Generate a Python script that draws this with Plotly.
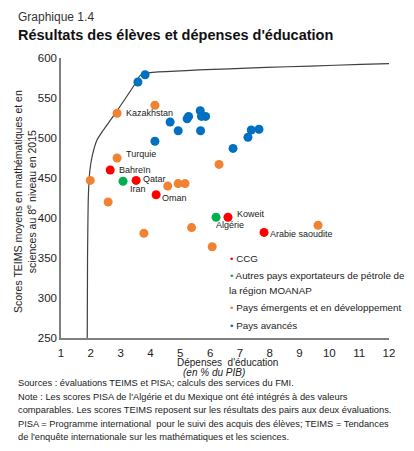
import plotly.graph_objects as go

# Pays avancés
av_x = [3.58, 3.82, 4.15, 4.66, 4.93, 5.23, 5.28, 5.67, 5.71, 5.85, 5.68, 6.77, 7.27, 7.38, 7.64]
av_y = [570, 579, 496, 520, 509, 524, 527, 534, 527, 527, 509, 487, 501, 510, 511]

# Pays émergents et en développement
em_x = [2.88, 4.15, 2.88, 1.98, 2.58, 4.58, 4.93, 5.16, 3.78, 5.38, 6.30, 6.07, 9.62]
em_y = [531, 541, 475, 447, 420, 440, 443, 443, 381, 388, 467, 364, 391]

# CCG
ccg_x = [2.65, 3.52, 4.19, 6.60, 7.81]
ccg_y = [460, 447, 429, 401, 382]

# Autres exportateurs de pétrole MOANAP
oth_x = [3.08, 6.20]
oth_y = [446, 401]

# frontière d'efficience
fr_x = [1.88, 1.89, 1.92, 1.97, 2.05, 2.2, 2.42, 2.75, 3.08, 3.42, 3.65, 3.85, 12.05]
fr_y = [250, 350, 430, 460, 478, 497, 510, 527, 545, 564, 578, 581, 593]

# étiquettes (nom, x, y, décalage x, décalage y)
labels = [
    ("Kazakhstan", 2.88, 531, 7, 0),
    ("Turquie", 2.88, 475, 7, 4),
    ("Bahreïn", 2.65, 460, 7, 0),
    ("Qatar", 3.52, 447, 5, 1),
    ("Iran", 3.08, 446, 5, -8),
    ("Oman", 4.19, 429, 4, -3),
    ("Koweit", 6.60, 401, 7, 3),
    ("Algérie", 6.20, 401, -2, -8),
    ("Arabie saoudite", 7.81, 382, 4, -2),
]

BLUE = "#0070C0"
ORANGE = "#F08232"
RED = "#FF0000"
GREEN = "#00B050"
FONT = "Liberation Sans, Arial, sans-serif"

# the page body has an 8px margin, so the figure is 8px smaller and every
# reference pixel position below is given in page coordinates (plot box 61..389 x 58..338)
PL, PT, PB = 61, 58, 338

fig = go.Figure()

fig.add_trace(go.Scatter(x=fr_x, y=fr_y, mode="lines", line=dict(color="#404040", width=1.2, shape="spline", smoothing=0.6),
                         showlegend=False, hoverinfo="skip"))

series = [
    ("Pays avancés", av_x, av_y, BLUE),
    ("Pays émergents et en développement", em_x, em_y, ORANGE),
    ("Autres pays exportateurs de pétrole de<br>la région MOANAP", oth_x, oth_y, GREEN),
    ("CCG", ccg_x, ccg_y, RED),
]
for name, xs, ys, c in series:
    fig.add_trace(go.Scatter(x=xs, y=ys, mode="markers", name=name, marker=dict(color=c, size=9), showlegend=False))

for name, x, y, dx, dy in labels:
    fig.add_annotation(x=x, y=y, text=name, showarrow=False, xanchor="left", yanchor="middle",
                       xshift=dx, yshift=dy, font=dict(size=9, color="#222222", family=FONT))

def text_at(txt, px, py, size, anchor="left", color="#222222"):
    # place a text by page pixel position (px = anchor x, py = vertical centre)
    fig.add_annotation(text=txt, xref="paper", yref="paper", x=0, y=1, xshift=px - PL, yshift=-(py - PT),
                       xanchor=anchor, yanchor="middle", showarrow=False, align="left",
                       font=dict(size=size, color=color))

# légende dessinée à la main (petits points)
legend_rows = [
    ("CCG", RED, 258),
    ("Autres pays exportateurs de pétrole de", GREEN, 275),
    ("la région MOANAP", None, 290),
    ("Pays émergents et en développement", ORANGE, 307),
    ("Pays avancés", BLUE, 325),
]
for txt, c, py in legend_rows:
    if c:
        text_at(f'<span style="color:{c}">•</span> ' + txt, 228, py, 9.8)
    else:
        text_at(txt, 227, py, 9.8)

fig.update_xaxes(range=[1, 12], dtick=1, showgrid=False, zeroline=False, showline=True,
                 linecolor="#7f7f7f", linewidth=1.5, ticks="", ticklabelstandoff=3,
                 tickfont=dict(size=11.5, color="#222222"))
fig.update_yaxes(range=[250, 600], dtick=50, showgrid=False, zeroline=False, showline=True,
                 linecolor="#7f7f7f", linewidth=1.5, ticks="", tickfont=dict(size=11.5, color="#222222"))

fig.update_layout(
    width=406, height=443,
    margin=dict(l=53, r=25, t=50, b=113, autoexpand=False),
    paper_bgcolor="white", plot_bgcolor="white",
    font=dict(family=FONT, color="#222222"),
    showlegend=False,
)

# titres
text_at("Graphique 1.4", 16, 17, 12, color="#333333")
text_at("<b>Résultats des élèves et dépenses d'éducation</b>", 16, 35, 14.5, color="#111111")

# titre axe y
fig.add_annotation(text="Scores TEIMS moyens en mathématiques et en<br>sciences au 8<sup>e</sup> niveau en 2015",
                   xref="paper", yref="paper", x=0, y=0.5, xshift=-21, yshift=-4, xanchor="right", yanchor="middle",
                   textangle=-90, showarrow=False, font=dict(size=10.5, color="#222222"))

# titre axe x
text_at("Dépenses  d'éducation", 227, 362, 10, anchor="center")
text_at("<i>(en % du PIB)</i>", 214, 372, 10, anchor="center")

notes = [
    "Sources : évaluations TEIMS et PISA; calculs des services du FMI.",
    "Note : Les scores PISA de l'Algérie et du Mexique ont été intégrés à des valeurs",
    "comparables. Les scores TEIMS reposent sur les résultats des pairs aux deux évaluations.",
    "PISA = Programme international  pour le suivi des acquis des élèves; TEIMS = Tendances",
    "de l'enquête internationale sur les mathématiques et les sciences.",
]
for i, line in enumerate(notes):
    text_at(line, 16, 383 + i * 13.5, 9.3)

fig.write_html("out.html")
